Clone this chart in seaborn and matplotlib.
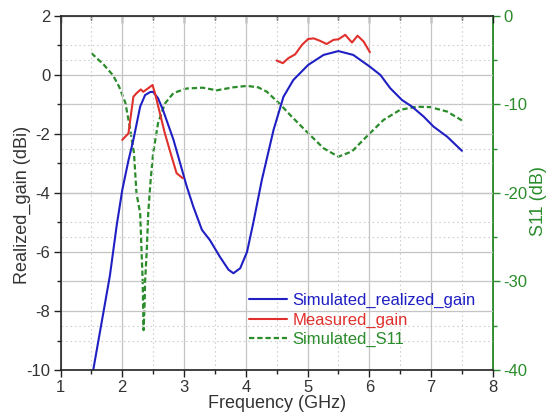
import numpy as np
import pandas as pd
import matplotlib
matplotlib.use("Agg")
import matplotlib.pyplot as plt
import seaborn as sns
from matplotlib.ticker import MultipleLocator
from matplotlib.lines import Line2D

# ---------------- data ----------------
sim_gain_freq = [1.53, 1.80, 1.91, 2.00, 2.10, 2.18, 2.29, 2.37, 2.45, 2.50, 2.58,
                 2.66, 2.83, 3.04, 3.15, 3.29, 3.42, 3.58, 3.72, 3.80, 3.91, 4.02,
                 4.12, 4.26, 4.45, 4.61, 4.77, 5.01, 5.26, 5.50, 5.74, 6.01, 6.18,
                 6.34, 6.53, 6.69, 6.88, 7.04, 7.26, 7.50]
sim_gain_val = [-10.0, -6.8, -5.1, -3.9, -2.9, -2.2, -1.07, -0.68, -0.58, -0.57, -0.79,
                -1.19, -2.2, -3.75, -4.46, -5.25, -5.6, -6.16, -6.6, -6.72, -6.55, -6.0,
                -5.03, -3.56, -1.86, -0.74, -0.17, 0.34, 0.68, 0.81, 0.68, 0.28, 0.0,
                -0.45, -0.85, -1.07, -1.41, -1.75, -2.09, -2.57]

meas_band1_freq = [2.00, 2.10, 2.18, 2.23, 2.30, 2.34, 2.42, 2.49, 2.53, 2.61, 2.69,
                   2.80, 2.88, 2.98]
meas_band1_val = [-2.2, -1.98, -0.74, -0.62, -0.49, -0.57, -0.45, -0.34, -0.62, -1.30,
                  -1.98, -2.77, -3.33, -3.5]
meas_band2_freq = [4.50, 4.60, 4.69, 4.80, 4.91, 5.01, 5.10, 5.20, 5.31, 5.42, 5.50,
                   5.61, 5.72, 5.81, 5.91, 6.01]
meas_band2_val = [0.49, 0.40, 0.57, 0.70, 1.02, 1.22, 1.24, 1.16, 1.05, 1.19, 1.21,
                  1.36, 1.10, 1.33, 1.13, 0.77]

s11_freq = [1.50, 1.70, 1.85, 1.95, 2.05, 2.12, 2.19, 2.23, 2.29, 2.31, 2.33, 2.34,
            2.345, 2.36, 2.37, 2.40, 2.42, 2.46, 2.50, 2.58, 2.69, 2.83, 3.04, 3.30,
            3.53, 3.80, 4.02, 4.20, 4.34, 4.56, 4.72, 4.99, 5.26, 5.50, 5.72, 5.96,
            6.23, 6.50, 6.77, 6.99, 7.26, 7.50]
s11_val = [-4.2, -5.5, -6.7, -8.0, -9.8, -12.5, -15.5, -20.0, -22.3, -26.1, -29.8, -33.5,
           -35.5, -33.0, -30.0, -26.0, -22.3, -18.5, -15.5, -12.1, -9.9, -8.7, -8.2, -8.1,
           -8.4, -8.06, -7.9, -8.06, -8.55, -10.0, -11.2, -13.1, -14.95, -15.9, -15.3, -13.6,
           -11.75, -10.6, -10.25, -10.3, -10.8, -11.8]

x_ticks = [1, 2, 3, 4, 5, 6, 7, 8]
gain_ticks = [-10, -8, -6, -4, -2, 0, 2]
s11_ticks = [-40, -30, -20, -10, 0]
legend_labels = ["Simulated_realized_gain", "Measured_gain", "Simulated_S11"]

BLUE = "#1f1fc4"
RED = "#e0302c"
GREEN = "#2a8c2a"

# ---------------- style ----------------
sns.set_style("white")
plt.rcParams['font.family'] = ['Liberation Sans', 'DejaVu Sans']
plt.rcParams['axes.unicode_minus'] = False

fig = plt.figure(figsize=(5.5, 4.17), dpi=100)
ax = fig.add_axes([0.110, 0.1127, 0.786, 0.849])
ax2 = ax.twinx()
ax.set_zorder(ax2.get_zorder() + 1)
ax.patch.set_visible(False)

df_sim = pd.DataFrame({"f": sim_gain_freq, "g": sim_gain_val})
df_m1 = pd.DataFrame({"f": meas_band1_freq, "g": meas_band1_val})
df_m2 = pd.DataFrame({"f": meas_band2_freq, "g": meas_band2_val})
df_s11 = pd.DataFrame({"f": s11_freq, "s": s11_val})

sns.lineplot(data=df_s11, x="f", y="s", ax=ax2, color=GREEN, lw=1.6,
             estimator=None, sort=False, legend=False)
ax2.lines[-1].set_dashes((2.4, 1.3))
sns.lineplot(data=df_sim, x="f", y="g", ax=ax, color=BLUE, lw=1.5,
             estimator=None, sort=False, legend=False)
sns.lineplot(data=df_m1, x="f", y="g", ax=ax, color=RED, lw=1.5,
             estimator=None, sort=False, legend=False)
sns.lineplot(data=df_m2, x="f", y="g", ax=ax, color=RED, lw=1.5,
             estimator=None, sort=False, legend=False)

# limits / ticks
ax.set_xlim(1, 8)
ax.set_ylim(-10, 2)
ax2.set_ylim(-40, 0)
ax.set_xticks(x_ticks)
ax.set_yticks(gain_ticks)
ax2.set_yticks(s11_ticks)
ax.xaxis.set_minor_locator(MultipleLocator(0.5))
ax.yaxis.set_minor_locator(MultipleLocator(1))
ax2.yaxis.set_minor_locator(MultipleLocator(5))

# grids
grid_major = dict(color="#c4c4c4", lw=0.9, ls="-")
grid_minor = dict(color="#d0d0d0", lw=0.8, ls=(0, (1.5, 2.5)))
ax.grid(True, which="major", axis="both", **grid_major)
ax.grid(True, which="minor", axis="both", **grid_minor)
ax2.grid(True, which="major", axis="y", **grid_major)
ax2.grid(True, which="minor", axis="y", **grid_minor)
ax2.grid(False, axis="x")

# spines
for s in ["left", "bottom", "top"]:
    ax.spines[s].set_color("#222222")
    ax.spines[s].set_linewidth(1.2)
ax.spines["right"].set_visible(False)
for s in ["left", "bottom", "top"]:
    ax2.spines[s].set_visible(False)
ax2.spines["right"].set_color(GREEN)
ax2.spines["right"].set_linewidth(1.4)

ax.tick_params(axis="both", which="major", direction="out", length=5, width=1,
               color="#222222", labelsize=12, labelcolor="#333333", pad=2.2,
               left=True, bottom=True, right=False, top=False)
ax.tick_params(axis="both", which="minor", direction="out", length=3, width=1,
               color="#222222", left=True, bottom=True, right=False, top=False)
ax2.tick_params(axis="y", which="major", direction="out", length=5, width=1,
                color=GREEN, labelsize=12, labelcolor=GREEN, pad=2.5)
ax2.tick_params(axis="y", which="minor", direction="out", length=3, width=1,
                color=GREEN)

top = ax.secondary_xaxis("top")
top.set_xticks(x_ticks)
top.xaxis.set_minor_locator(MultipleLocator(0.5))
top.tick_params(axis="x", which="major", direction="in", length=5, width=1,
                color="#222222", labeltop=False)
top.tick_params(axis="x", which="minor", direction="in", length=3, width=1,
                color="#222222")
top.spines["top"].set_visible(False)

ax.set_xlabel("Frequency (GHz)", fontsize=13, color="#333333", labelpad=0)
ax.set_ylabel("Realized_gain (dBi)", fontsize=13, color="#333333")
ax2.set_ylabel("S11 (dB)", fontsize=13, color=GREEN)
ax.yaxis.set_label_coords(-0.068, 0.466)
ax2.yaxis.set_label_coords(1.086, 0.476)

# legend
handles = [Line2D([], [], color=BLUE, lw=1.5),
           Line2D([], [], color=RED, lw=1.5),
           Line2D([], [], color=GREEN, lw=1.6, dashes=(2.4, 1.3))]
leg = ax.legend(handles, legend_labels, loc="center left", bbox_to_anchor=(0.436, 0.141),
                frameon=False, fontsize=12, handlelength=2.3, handletextpad=0.3,
                labelspacing=0.25, borderpad=0, borderaxespad=0)
for t, c in zip(leg.get_texts(), [BLUE, RED, GREEN]):
    t.set_color(c)

fig.savefig("out.png", dpi=100)
